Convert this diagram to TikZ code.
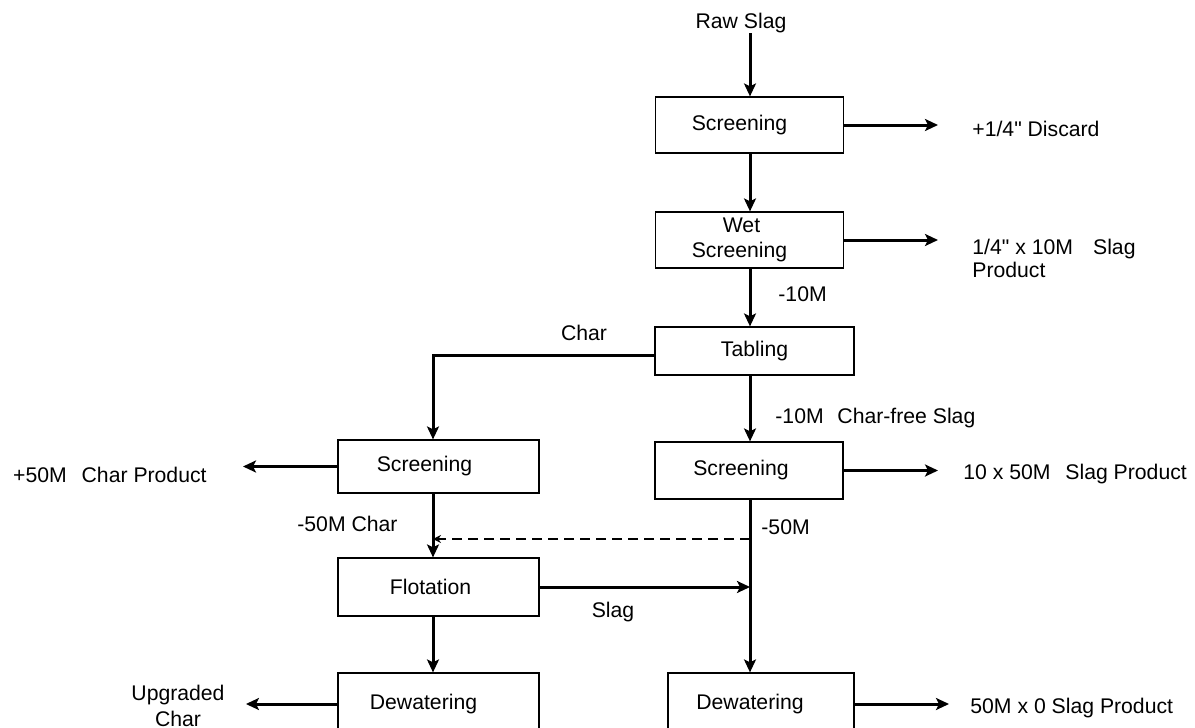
\documentclass[tikz,border=0pt]{standalone}
\usepackage{fontspec}
\setmainfont{Liberation Sans}[Ligatures=TeXOff]
\usetikzlibrary{arrows.meta}

\begin{document}
\begin{tikzpicture}[x=50pt, y=-50pt,
    >={Stealth[length=6.5pt,width=6pt,inset=1.5pt]},
    every node/.style={font=\fontsize{10.6}{12.6}\selectfont},
    unit/.style={draw, line width=0.6pt, minimum width=94pt, minimum height=28pt, inner sep=0pt, align=center},
    flow/.style={line width=1.5pt, ->},
    recycle/.style={line width=0.6pt, dash pattern=on 5pt off 3pt, -{Stealth[length=4pt,width=4pt]}},
    lbl/.style={inner sep=0pt}]

    % Page
    \useasboundingbox (0,0) rectangle (11.95,7.28);
    \clip (0,0) rectangle (11.95,7.28);

    % Columns
    \coordinate (lcol) at (4.33,0);
    \coordinate (rcol) at (7.50,0);

    % Process units (text sits a bit left of the box middle)
    \node[unit] (scrA) at (7.495,1.25) {Screening\hspace*{10pt}};
    \node[unit] (wetscr) at (7.495,2.40) {Wet\hspace*{8pt}\\Screening\hspace*{10pt}};
    \node[unit, minimum width=99.5pt, minimum height=24pt] (tabling) at (7.545,3.51) {Tabling};
    \node[unit, minimum width=100.5pt, minimum height=26.5pt] (scrchar) at (4.385,4.665) {Screening\hspace*{14pt}};
    \node[unit, minimum height=28.5pt] (scrslag) at (7.49,4.705) {Screening\hspace*{8pt}};
    \node[unit, minimum width=100.5pt, minimum height=29pt] (flotation) at (4.385,5.87) {Flotation\hspace*{8pt}};
    \node[unit, minimum width=100.5pt, minimum height=31pt] (dewchar) at (4.385,7.04) {Dewatering\hspace*{15pt}};
    \node[unit, minimum width=93pt, minimum height=31pt] (dewslag) at (7.61,7.04) {Dewatering\hspace*{11pt}};

    % Feed and products
    \node[lbl] (rawslag) at (7.41,0.23) {Raw Slag};
    \node[lbl, anchor=west] (discard) at (9.72,1.29) {+1/4" Discard};
    \node[lbl, anchor=north west, align=left] (slagA) at (9.72,2.385) {1/4" x 10M\hspace{0.95em}Slag\\[-1pt]Product};
    \node[lbl, anchor=west] (slagB) at (9.63,4.74) {10 x 50M\hspace{0.7em}Slag Product};
    \node[lbl, anchor=east] (charprod) at (2.07,4.75) {+50M\hspace{0.7em}Char Product};
    \node[lbl, align=center] (upchar) at (1.78,7.06) {Upgraded\\Char};
    \node[lbl, anchor=west] (slagC) at (9.70,7.08) {50M x 0 Slag Product};

    % Stream labels
    \node[lbl, anchor=west] (l10m) at (7.78,2.94) {-10M};
    \node[lbl] (lchar) at (5.84,3.33) {Char};
    \node[lbl, anchor=west] (lcfree) at (7.75,4.18) {-10M\hspace{0.65em}Char-free Slag};
    \node[lbl, anchor=west] (l50mchar) at (2.97,5.24) {-50M Char};
    \node[lbl, anchor=west] (l50m) at (7.61,5.27) {-50M};
    \node[lbl] (lslag) at (6.13,6.12) {Slag};

    % Slag line
    \draw[flow] (rcol |- rawslag.south) -- (rcol |- scrA.north);
    \draw[flow] (rcol |- scrA.south) -- (rcol |- wetscr.north);
    \draw[flow] (rcol |- wetscr.south) -- (rcol |- tabling.north);
    \draw[flow] (rcol |- tabling.south) -- (rcol |- scrslag.north);
    \draw[flow] (rcol |- scrslag.south) -- (rcol |- dewslag.north);

    % Products out
    \draw[flow, shorten >=17pt] (scrA.east) -- (scrA.east -| discard.west);
    \draw[flow, shorten >=17pt] (wetscr.east) -- (wetscr.east -| slagA.west);
    \draw[flow, shorten >=12.5pt] (scrslag.east) -- (scrslag.east -| slagB.west);
    \draw[flow, shorten >=18pt] (scrchar.west) -- (scrchar.west -| charprod.east);
    \draw[flow, shorten >=10.5pt] (dewchar.west) -- (dewchar.west -| upchar.east);
    \draw[flow, shorten >=10.5pt] (dewslag.east) -- (dewslag.east -| slagC.west);

    % Char line
    \draw[flow] ([yshift=-2pt]tabling.west) -| (lcol |- scrchar.north);
    \draw[flow] (lcol |- scrchar.south) -- (lcol |- flotation.north);
    \draw[flow] (lcol |- flotation.south) -- (lcol |- dewchar.north);
    \draw[flow] (flotation.east) -- (flotation.east -| rcol);

    % Recycle
    \coordinate (recyc) at (7.50,5.39);
    \draw[recycle] (recyc) -- (recyc -| lcol);
\end{tikzpicture}
\end{document}
